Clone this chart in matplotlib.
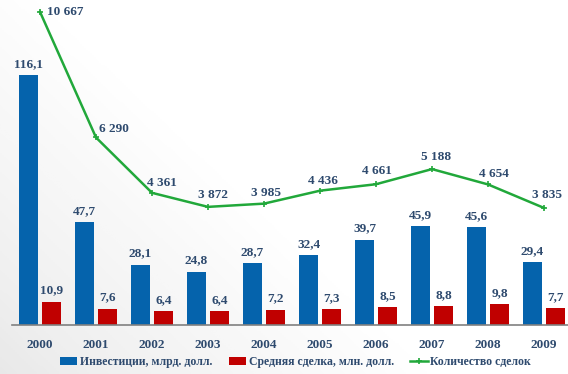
import numpy as np
import matplotlib
matplotlib.use('Agg')
import matplotlib.pyplot as plt

# data
years = ['2000', '2001', '2002', '2003', '2004', '2005', '2006', '2007', '2008', '2009']
invest = [116.1, 47.7, 28.1, 24.8, 28.7, 32.4, 39.7, 45.9, 45.6, 29.4]
avg_deal = [10.9, 7.6, 6.4, 6.4, 7.2, 7.3, 8.5, 8.8, 9.8, 7.7]
deals = [10667, 6290, 4361, 3872, 3985, 4436, 4661, 5188, 4654, 3835]
deal_labels = ['10 667', '6 290', '4 361', '3 872', '3 985', '4 436', '4 661', '5 188', '4 654', '3 835']

blue = '#0563AC'
red = '#C00000'
green = '#21A83A'
txt = '#2E4A6E'
font = ['Liberation Serif', 'DejaVu Serif']

fig = plt.figure(figsize=(5.68, 3.74), dpi=100)

# light grey shading in the upper left corner
bg = fig.add_axes([0, 0, 1, 1], zorder=-10)
yy, xx = np.mgrid[0:1:200j, 0:1:300j]
shade = np.clip(1 - (xx * 1.3 + (1 - yy) * 0.9), 0, 1)
bg.imshow(shade, cmap='Greys', vmin=0, vmax=6, extent=[0, 1, 0, 1], aspect='auto')
bg.axis('off')

ax = fig.add_axes([12 / 568, 49 / 374, 560 / 568, 325 / 374])
ax.patch.set_alpha(0)
x = np.arange(len(years))
w = 0.34
b1 = ax.bar(x - 0.205, invest, w, color=blue, label='Инвестиции, млрд. долл.')
b2 = ax.bar(x + 0.205, avg_deal, w, color=red, label='Средняя сделка, млн. долл.')
ax.set_ylim(0, 151)
ax.set_xlim(-0.5, 9.5)

for bars, vals in [(b1, invest), (b2, avg_deal)]:
    for r, v in zip(bars, vals):
        ax.annotate(('%.1f' % v).replace('.', ','), (r.get_x() + r.get_width() / 2, v),
                    xytext=(0, 5), textcoords='offset pixels', ha='center', va='bottom',
                    fontsize=9.5, fontweight='bold', color=txt, family=font)

for s in ['top', 'right', 'left']:
    ax.spines[s].set_visible(False)
ax.spines['bottom'].set_color('#808080')
ax.spines['bottom'].set_linewidth(1.2)
ax.set_yticks([])
ax.set_xticks(x)
ax.set_xticklabels(years, fontsize=9.5, fontweight='bold', color=txt, family=font)
ax.tick_params(axis='x', length=0, pad=10)

ax2 = ax.twinx()
ax2.set_ylim(-244, 11080)
ln, = ax2.plot(x, deals, color=green, lw=1.8, marker='+', ms=4, mew=1.2,
               label='Количество сделок')
ax2.axis('off')

offs = [(25, 0), (18, 8), (10, 10), (5, 12), (2, 11), (3, 10), (1, 13), (4, 12), (6, 10), (3, 13)]
for xi, v, lab, o in zip(x, deals, deal_labels, offs):
    ax2.annotate(lab, (xi, v), xytext=o, textcoords='offset pixels', ha='center', va='center',
                 fontsize=9.5, fontweight='bold', color=txt, family=font)

leg = fig.legend([b1, b2, ln], [b1.get_label(), b2.get_label(), ln.get_label()],
                 loc='center', bbox_to_anchor=(0.52, 12 / 374), ncol=3, frameon=False,
                 prop={'family': font, 'weight': 'bold', 'size': 8.5},
                 handlelength=1.5, handletextpad=0.2, columnspacing=1.4)
for t in leg.get_texts():
    t.set_color(txt)

fig.savefig('out.png', dpi=100)
